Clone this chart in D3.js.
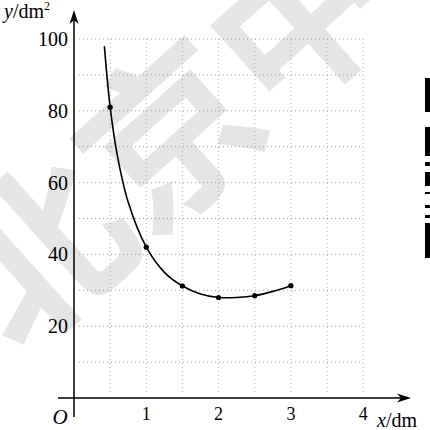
<!DOCTYPE html>
<html><head><meta charset="utf-8">
<script src="https://cdn.jsdelivr.net/npm/d3@7"></script>
<style>html,body{margin:0;padding:0;background:#fff;}svg{display:block;}
.serif{font-family:"Liberation Serif","Times New Roman","DejaVu Serif",serif;}
.wm{font-family:"Noto Sans CJK SC",sans-serif;font-weight:bold;}
</style>
</head><body>
<script>
// ---- data ----
const pointX = [0.5, 1, 1.5, 2, 2.5, 3];
const pointY = [81, 42, 31.2, 28, 28.5, 31.3];
const curveX = [0.42, 0.5, 0.6, 0.75, 1, 1.25, 1.5, 1.75, 2, 2.25, 2.5, 2.75, 3];
const curveY = [98, 81, 67.5, 54.5, 42, 35, 31.2, 29, 28, 28, 28.5, 29.7, 31.3];
const xTicks = [1, 2, 3, 4];
const yTicks = [20, 40, 60, 80, 100];
const xGrid = [0.5, 1, 1.5, 2, 2.5, 3, 3.5, 4];
const yGrid = [10, 20, 30, 40, 50, 60, 70, 80, 90, 100];

const W = 430, H = 430;
const svg = d3.select("body").append("svg").attr("width", W).attr("height", H);
const x = d3.scaleLinear().domain([0, 4]).range([74, 363.2]);
const y = d3.scaleLinear().domain([0, 100]).range([398, 39]);

// watermark
svg.append("text").attr("class", "wm")
  .attr("transform", "translate(18,358) rotate(-42)")
  .attr("font-size", 175)
  .attr("fill", "#e5e5e5")
  .text("北京中");

// grid
svg.append("g").selectAll("line").data(yGrid).join("line")
  .attr("x1", x(0.07)).attr("x2", x(4))
  .attr("y1", d => y(d)).attr("y2", d => y(d))
  .attr("stroke", "#9a9a9a").attr("stroke-width", 1).attr("stroke-dasharray", "1,3");
svg.append("g").selectAll("line").data(xGrid).join("line")
  .attr("x1", d => x(d)).attr("x2", d => x(d))
  .attr("y1", y(100)).attr("y2", y(0.8))
  .attr("stroke", "#b0b0b0").attr("stroke-width", 1).attr("stroke-dasharray", "1,3");

// axes
svg.append("line").attr("x1", 58).attr("x2", 405).attr("y1", y(0)).attr("y2", y(0))
  .attr("stroke", "#000").attr("stroke-width", 1.5);
svg.append("line").attr("x1", x(0)).attr("x2", x(0)).attr("y1", 417).attr("y2", 16)
  .attr("stroke", "#000").attr("stroke-width", 1.5);
svg.append("path").attr("d", `M${x(0)},10 L${x(0)+4.5},24 L${x(0)},20 L${x(0)-4.5},24 Z`).attr("fill", "#000");
svg.append("path").attr("d", `M411,${y(0)} L397,${y(0)-4.5} L401,${y(0)} L397,${y(0)+4.5} Z`).attr("fill", "#000");

// tick labels
svg.append("g").selectAll("text").data(yTicks).join("text").attr("class", "serif")
  .attr("x", 68).attr("y", d => y(d)).attr("dy", "0.35em")
  .attr("text-anchor", "end").attr("font-size", 20)
  .text(d => d);
svg.append("g").selectAll("text").data(xTicks).join("text").attr("class", "serif")
  .attr("x", d => x(d)).attr("y", 420)
  .attr("text-anchor", "middle").attr("font-size", 18)
  .text(d => d);
svg.append("text").attr("class", "serif").attr("x", 60).attr("y", 424).attr("text-anchor", "middle")
  .attr("font-style", "italic").attr("font-size", 21).text("O");

// axis titles
const yl = svg.append("text").attr("class", "serif").attr("x", 4).attr("y", 18).attr("font-size", 20);
yl.append("tspan").attr("font-style", "italic").text("y");
yl.append("tspan").text("/dm");
yl.append("tspan").attr("font-size", 12).attr("dy", -8).text("2");
const xl = svg.append("text").attr("class", "serif").attr("x", 377).attr("y", 427).attr("font-size", 20);
xl.append("tspan").attr("font-style", "italic").text("x");
xl.append("tspan").text("/dm");

// curve
const curveData = curveX.map((v, i) => [v, curveY[i]]);
svg.append("path").datum(curveData)
  .attr("d", d3.line().x(d => x(d[0])).y(d => y(d[1])).curve(d3.curveCatmullRom.alpha(0.5)))
  .attr("fill", "none").attr("stroke", "#000").attr("stroke-width", 1.6);

// points
svg.append("g").selectAll("circle").data(pointX.map((v, i) => [v, pointY[i]])).join("circle")
  .attr("cx", d => x(d[0])).attr("cy", d => y(d[1])).attr("r", 2.6).attr("fill", "#000");

// decorative black blocks at right edge (cropped artwork)
const blocks = [[78,112],[127,156],[162,166],[172,186],[192,194],[205,208],[215,218],[223,258]];
svg.append("g").selectAll("rect").data(blocks).join("rect")
  .attr("x", 425).attr("width", 5).attr("y", d => d[0]).attr("height", d => d[1]-d[0]).attr("fill", "#000");
</script>
</body></html>
